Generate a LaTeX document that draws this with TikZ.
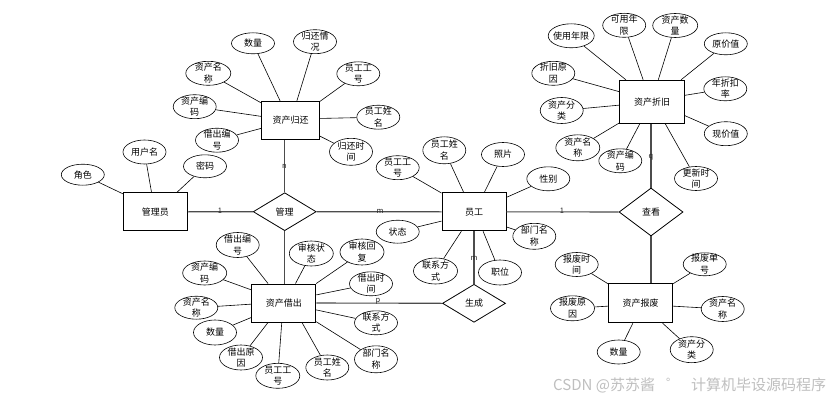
\documentclass[tikz,border=0pt]{standalone}
\usepackage{fontspec}
\setmainfont{Noto Sans CJK SC}
\usetikzlibrary{shapes.geometric}
\begin{document}
\begin{tikzpicture}[x=1pt,y=-1pt,
  ent/.style={draw, line width=0.9pt, minimum width=64pt, minimum height=38pt, inner sep=0pt, font=\fontsize{9}{11}\selectfont},
  rel/.style={draw, diamond, line width=0.8pt, minimum width=63pt, minimum height=38pt, inner sep=0pt, font=\fontsize{9}{11}\selectfont},
  attr/.style={draw, ellipse, line width=0.6pt, minimum width=43pt, minimum height=24pt, inner xsep=-2pt, inner ysep=-2.5pt, align=center, font=\fontsize{9}{11.5}\selectfont},
  al/.style={line width=0.6pt},
  rl/.style={line width=1.1pt, draw=black!70},
  card/.style={font=\fontsize{7.5}{8}\selectfont, inner sep=0pt, text=black!85}
]
\useasboundingbox (0,0) rectangle (834,401);
\fill[white] (0,0) rectangle (834,401);

% entities
\node[ent, minimum width=58pt] (gh) at (290.5,120.5) {资产归还};
\node[ent, minimum width=65pt, minimum height=43pt] (zj) at (652,101.7) {资产折旧};
\node[ent] (gly) at (155.3,211.8) {管理员};
\node[ent] (yg) at (474,211.8) {员工};
\node[ent] (jc) at (283.8,303) {资产借出};
\node[ent, minimum height=39pt] (bf) at (640.5,303.3) {资产报废};

% relationships
\node[rel] (gl) at (284.7,211.7) {管理};
\node[rel, minimum width=64pt, minimum height=48pt] (ck) at (651,212) {查看};
\node[rel] (sc) at (474,303.3) {生成};

% relationship connectors
\draw[rl] (gly.east) -- (gl.west);
\draw[rl] (gl.east) -- (yg.west);
\draw[rl] (gl.north) -- (gl.north |- gh.south);
\draw[rl] (gl.south) -- (gl.south |- jc.north);
\draw[rl] (yg.east) -- (ck.west);
\draw[rl] (ck.north) -- (ck.north |- zj.south);
\draw[rl] (ck.south) -- (ck.south |- bf.north);
\draw[rl] (yg.south) -- (sc.north);
\draw[rl] (jc.east) -- (sc.west);

% cardinalities
\node[card] (c1) at (220,211) {1};
\node[card] (c2) at (380,211) {m};
\node[card] (c3) at (284.5,166) {n};
\node[card] (c4) at (474,258) {m};
\node[card] (c5) at (378,301) {p};
\node[card] (c6) at (651,157) {q};
\node[card] (c7) at (562,211) {1};

% attributes of 资产归还
\node[attr, minimum height=21pt] (gh1) at (253,43.3) {数量};
\node[attr] (gh2) at (315,41.7) {归还情\\况};
\node[attr] (gh3) at (358.3,73.8) {员工工\\号};
\node[attr] (gh4) at (378.3,117.2) {员工姓\\名};
\node[attr, minimum height=27pt] (gh5) at (351,151.8) {归还时\\间};
\node[attr, minimum width=45pt] (gh6) at (208.3,73.3) {资产名\\称};
\node[attr] (gh7) at (194.7,106.7) {资产编\\码};
\node[attr] (gh8) at (217,140.2) {借出编\\号};
\draw[al] (gh1) -- (gh.118);
\draw[al] (gh2) -- (gh.72);
\draw[al] (gh3) -- (gh.33);
\draw[al] (gh4) -- (gh.4);
\draw[al] (gh5) -- (gh.-28);
\draw[al] (gh6) -- (gh.149);
\draw[al] (gh7) -- (gh.172);
\draw[al] (gh8) -- (gh.-165);

% attributes of 资产折旧
\node[attr, minimum width=46pt] (zj1) at (571.2,35.8) {使用年限};
\node[attr] (zj2) at (624.2,25.3) {可用年\\限};
\node[attr, minimum width=45pt] (zj3) at (675.2,25.5) {资产数\\量};
\node[attr, minimum height=22pt] (zj4) at (725.8,43.8) {原价值};
\node[attr] (zj5) at (725.3,88.8) {年折扣\\率};
\node[attr] (zj6) at (725.8,133.7) {现价值};
\node[attr] (zj7) at (696,178.5) {更新时\\间};
\node[attr] (zj8) at (620.3,160.8) {资产编\\码};
\node[attr, minimum width=44pt, minimum height=26pt] (zj9) at (577.8,147.8) {资产名\\称};
\node[attr, minimum height=26pt] (zj10) at (561.7,110.5) {资产分\\类};
\node[attr] (zj11) at (553.3,73.3) {折旧原\\因};
\draw[al] (zj1) -- (zj.140);
\draw[al] (zj2) -- (zj.112);
\draw[al] (zj3) -- (zj.74);
\draw[al] (zj4) -- (zj.37);
\draw[al] (zj5) -- (zj.11.5);
\draw[al] (zj6) -- (zj.-23);
\draw[al] (zj7) -- (zj.-59);
\draw[al] (zj8) -- (zj.-119);
\draw[al] (zj9) -- (zj.-147);
\draw[al] (zj10) -- (zj.-174);
\draw[al] (zj11) -- (zj.163);

% attributes of 管理员
\node[attr, minimum height=21pt] (gy1) at (82.8,174.7) {角色};
\node[attr] (gy2) at (144.5,152) {用户名};
\node[attr, minimum height=23pt] (gy3) at (205,166.3) {密码};
\draw[al] (gy1) -- (gly.151);
\draw[al] (gy2) -- (gly.101);
\draw[al] (gy3) -- (gly.42);

% attributes of 员工
\node[attr] (yg1) at (397.7,167.7) {员工工\\号};
\node[attr, minimum height=27pt] (yg2) at (444.3,150.3) {员工姓\\名};
\node[attr] (yg3) at (503,154.5) {照片};
\node[attr] (yg4) at (548.3,178.8) {性别};
\node[attr, minimum height=26pt] (yg5) at (534.3,236.3) {部门名\\称};
\node[attr, minimum height=25pt] (yg6) at (500,272.5) {职位};
\node[attr, minimum width=44pt, minimum height=26pt] (yg7) at (435.5,271) {联系方\\式};
\node[attr, minimum height=23pt] (yg8) at (397.7,231.7) {状态};
\draw[al] (yg1) -- (yg.150);
\draw[al] (yg2) -- (yg.118);
\draw[al] (yg3) -- (yg.62);
\draw[al] (yg4) -- (yg.24);
\draw[al] (yg5) -- (yg.-25);
\draw[al] (yg6) -- (yg.-65);
\draw[al] (yg7) -- (yg.-123);
\draw[al] (yg8) -- (yg.-164.5);

% attributes of 资产借出
\node[attr, minimum height=25pt] (jc1) at (237.7,245) {借出编\\号};
\node[attr, minimum width=44pt, minimum height=25pt] (jc2) at (311.3,253.5) {审核状\\态};
\node[attr, minimum width=44pt, minimum height=26pt] (jc3) at (362,252) {审核回\\复};
\node[attr] (jc4) at (371,283.8) {借出时\\间};
\node[attr] (jc5) at (376,322.8) {联系方\\式};
\node[attr, minimum height=27pt] (jc6) at (376,359.3) {部门名\\称};
\node[attr, minimum height=25pt] (jc7) at (327.3,367.5) {员工姓\\名};
\node[attr, minimum width=44pt, minimum height=25pt] (jc8) at (277.8,375.8) {员工工\\号};
\node[attr, minimum height=25pt] (jc9) at (241,357.5) {借出原\\因};
\node[attr, minimum height=25pt] (jc10) at (215,332.5) {数量};
\node[attr, minimum height=23pt] (jc11) at (196.3,307.7) {资产名\\称};
\node[attr, minimum width=44pt] (jc12) at (204.7,273) {资产编\\码};
\draw[al] (jc1) -- (jc.129);
\draw[al] (jc2) -- (jc.59.5);
\draw[al] (jc3) -- (jc.31);
\draw[al] (jc4) -- (jc.14);
\draw[al] (jc5) -- (jc.-12);
\draw[al] (jc6) -- (jc.-30);
\draw[al] (jc7) -- (jc.-47);
\draw[al] (jc8) -- (jc.-96);
\draw[al] (jc9) -- (jc.-129);
\draw[al] (jc10) -- (jc.-156);
\draw[al] (jc11) -- (jc.182);
\draw[al] (jc12) -- (jc.158);

% attributes of 资产报废
\node[attr] (bf1) at (576.7,264.5) {报废时\\间};
\node[attr, minimum height=23pt] (bf2) at (704.7,264.3) {报废单\\号};
\node[attr, minimum height=25pt] (bf3) at (722.7,309) {资产名\\称};
\node[attr, minimum height=26pt] (bf4) at (691.7,349.7) {资产分\\类};
\node[attr] (bf5) at (618.7,352) {数量};
\node[attr, minimum width=44pt, minimum height=25pt] (bf6) at (572.5,308.3) {报废原\\因};
\draw[al] (bf1) -- (bf.149);
\draw[al] (bf2) -- (bf.31);
\draw[al] (bf3) -- (bf.-5);
\draw[al] (bf4) -- (bf.-42);
\draw[al] (bf5) -- (bf.-111);
\draw[al] (bf6) -- (bf.-175);

% watermark
\node[anchor=west, inner sep=0pt, text=black!25, font=\fontsize{15}{15}\selectfont] (wm) at (553,385) {CSDN @苏苏酱\hspace{11pt}゜\hspace{10pt}计算机毕设源码程序};
\end{tikzpicture}
\end{document}
